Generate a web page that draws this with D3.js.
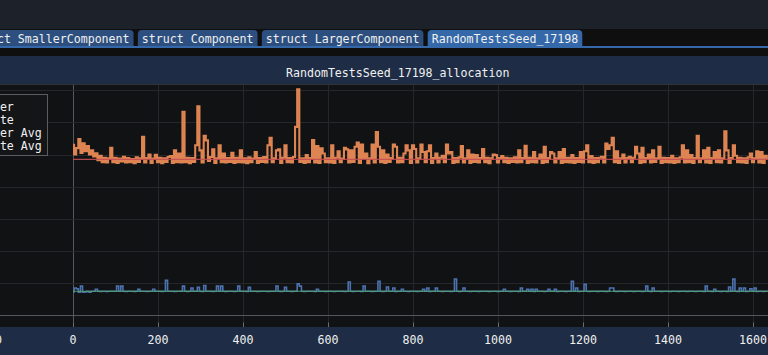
<!DOCTYPE html>
<html>
<head>
<meta charset="utf-8">
<script src="https://cdn.jsdelivr.net/npm/d3@7"></script>
<style>
  body { margin: 0; background: #0f0f10; overflow: hidden; }
  text { font-family: "DejaVu Sans Mono", monospace; font-size: 11.6px; fill: #f0f0f0; }
</style>
</head>
<body>
<svg id="chart" width="768" height="355"></svg>
<script>
// tabs of the window
var tabLabels = ["struct SmallerComponent", "struct Component", "struct LargerComponent", "RandomTestsSeed_17198"];
var activeTab = "RandomTestsSeed_17198";
var plotTitle = "RandomTestsSeed_17198_allocation";

// legend (series 1..4)
var seriesNames = ["Register", "Allocate", "Register Avg", "Allocate Avg"];
var seriesColors = ["#4c72b0", "#dd8452", "#55a868", "#c44e52"];

// one sample every 5 frames
var frameStep = 5;

// "Register" (blue)
var registerValues = [
  7.2, 8.4, 8.2, 7.1, 9.0, 7.1, 7.2, 7.4, 7.1, 7.4, 7.4, 8.0, 7.4, 7.3, 7.4, 7.4, 7.3, 7.4, 7.4, 7.4,
  7.4, 9.0, 7.4, 9.0, 7.4, 7.3, 7.4, 7.4, 7.4, 7.3, 7.4, 8.0, 7.4, 7.4, 7.4, 7.3, 7.4, 7.4, 8.0, 7.4,
  7.4, 7.4, 7.3, 7.4, 10.8, 7.4, 7.4, 7.4, 7.3, 7.4, 7.4, 7.4, 9.0, 7.4, 7.3, 7.4, 8.4, 7.4, 7.4, 8.6,
  7.4, 7.3, 9.2, 7.4, 7.4, 7.4, 7.3, 7.4, 9.0, 7.4, 9.0, 7.4, 7.3, 7.4, 7.4, 7.4, 7.3, 7.4, 9.0, 7.4,
  7.4, 7.4, 7.3, 8.6, 7.4, 7.4, 7.4, 7.3, 7.4, 7.4, 7.4, 7.4, 7.3, 7.4, 7.4, 7.4, 9.0, 7.4, 7.3, 7.4,
  8.6, 7.4, 7.4, 7.3, 7.4, 7.4, 9.7, 9.0, 7.4, 7.3, 7.4, 7.4, 7.4, 7.4, 7.3, 8.0, 7.4, 7.4, 7.4, 7.3,
  7.4, 7.4, 7.4, 7.3, 7.4, 7.4, 7.4, 7.4, 7.3, 7.4, 10.3, 7.4, 7.3, 7.4, 7.4, 7.4, 7.3, 9.0, 7.4, 7.4,
  7.4, 7.3, 7.4, 7.4, 10.5, 7.4, 7.3, 7.4, 8.7, 7.4, 7.4, 8.4, 7.3, 7.4, 7.4, 8.0, 7.4, 7.4, 7.3, 7.4,
  7.4, 7.4, 7.3, 7.4, 7.4, 8.0, 7.4, 8.4, 7.3, 7.4, 7.4, 8.4, 7.4, 7.4, 7.3, 7.4, 7.4, 7.4, 7.3, 7.4,
  11.2, 7.4, 7.3, 7.4, 8.4, 7.4, 7.4, 7.3, 7.4, 7.4, 7.4, 7.3, 7.4, 7.4, 7.4, 7.4, 7.3, 7.4, 7.4, 7.4,
  7.3, 7.4, 7.4, 8.0, 7.4, 7.4, 7.3, 7.4, 7.4, 7.4, 7.3, 8.4, 7.4, 7.4, 8.0, 7.4, 8.0, 7.3, 8.0, 7.4,
  7.4, 7.4, 7.3, 7.4, 8.0, 7.4, 7.4, 8.0, 7.3, 7.4, 7.4, 7.4, 7.3, 7.4, 7.4, 10.5, 7.4, 8.4, 7.3, 7.4,
  7.4, 9.6, 7.4, 7.3, 7.4, 7.4, 7.4, 7.3, 7.4, 7.4, 7.4, 7.3, 7.4, 8.4, 8.4, 7.4, 7.3, 7.4, 7.4, 7.4,
  7.3, 7.4, 7.4, 7.4, 7.3, 7.4, 7.4, 7.4, 7.3, 7.4, 9.0, 7.4, 7.3, 8.4, 7.4, 7.4, 7.4, 7.3, 7.4, 7.4,
  7.4, 7.3, 7.4, 7.4, 7.4, 7.3, 7.4, 7.4, 7.4, 7.3, 7.4, 7.4, 7.4, 7.3, 7.4, 7.4, 7.4, 7.3, 9.0, 7.4,
  7.4, 7.3, 8.0, 7.4, 7.4, 7.3, 7.4, 7.4, 7.3, 8.7, 7.4, 11.2, 7.4, 7.3, 8.4, 7.4, 8.4, 7.3, 7.4, 8.2,
  7.4, 8.4, 7.3, 7.4, 7.4, 7.3, 7.4, 7.4
];

// "Allocate" (orange)
var allocateValues = [
  53.0, 50.0, 52.0, 54.8, 50.5, 53.5, 51.0, 52.6, 50.0, 51.3, 49.4, 50.4, 48.2, 49.6, 47.6, 49.0, 47.5, 48.8, 52.1, 47.6,
  49.0, 47.4, 48.7, 47.8, 49.3, 47.5, 48.9, 47.6, 48.6, 47.3, 49.1, 47.7, 48.8, 55.5, 47.5, 48.9, 50.0, 47.4, 48.7, 49.9,
  47.6, 49.0, 47.3, 48.8, 47.7, 49.2, 49.5, 47.4, 51.3, 47.6, 50.3, 47.5, 63.3, 47.6, 49.0, 47.3, 48.9, 47.7, 52.9, 65.0,
  51.3, 47.5, 55.8, 54.4, 48.0, 49.2, 51.6, 47.4, 48.8, 52.9, 47.6, 50.3, 47.5, 48.9, 47.7, 50.5, 47.4, 49.0, 47.6, 51.3,
  47.5, 48.8, 47.3, 49.1, 47.6, 48.7, 50.8, 47.4, 48.9, 47.7, 49.2, 47.5, 52.9, 55.2, 47.6, 48.8, 51.3, 51.6, 47.4, 49.0,
  52.9, 47.6, 48.9, 47.5, 49.2, 58.6, 70.3, 47.7, 48.8, 47.4, 49.8, 47.6, 48.9, 54.5, 47.5, 52.6, 47.4, 51.9, 50.3, 47.6,
  48.8, 47.5, 52.9, 47.4, 49.0, 51.0, 47.6, 48.7, 52.1, 51.6, 47.5, 51.3, 47.7, 52.4, 53.7, 47.4, 53.1, 48.9, 50.3, 47.3,
  48.8, 53.1, 47.5, 57.0, 52.4, 47.6, 51.3, 47.4, 50.0, 47.7, 48.9, 53.1, 52.4, 47.5, 49.0, 47.6, 50.3, 52.9, 51.3, 47.4,
  52.9, 51.7, 47.5, 48.8, 53.1, 50.8, 47.6, 51.0, 52.9, 47.4, 48.9, 50.3, 47.5, 49.0, 49.6, 47.6, 53.1, 50.3, 50.8, 47.4,
  48.9, 47.6, 49.1, 52.6, 47.5, 48.8, 51.3, 47.4, 50.0, 47.7, 49.8, 47.5, 48.9, 51.7, 47.6, 49.0, 47.3, 48.8, 50.0, 49.8,
  47.5, 48.9, 49.5, 47.6, 49.0, 47.4, 48.8, 47.7, 49.1, 47.5, 51.3, 47.6, 48.9, 52.7, 47.4, 49.0, 47.6, 50.8, 47.5, 48.8,
  50.0, 47.4, 52.4, 47.6, 48.9, 50.8, 50.3, 47.5, 48.8, 50.8, 47.4, 51.7, 47.6, 49.0, 47.5, 49.8, 47.4, 48.9, 47.7, 50.8,
  47.5, 51.0, 52.9, 47.6, 49.5, 47.4, 48.9, 47.6, 49.0, 49.3, 47.5, 53.4, 51.7, 52.9, 55.2, 47.6, 51.0, 47.4, 48.8, 50.0,
  47.5, 48.9, 49.3, 47.6, 49.0, 52.4, 50.3, 47.4, 52.1, 47.6, 48.9, 50.0, 47.5, 51.3, 47.7, 48.8, 52.4, 47.4, 49.0, 47.6,
  48.9, 47.5, 49.6, 47.4, 48.8, 47.6, 49.1, 52.9, 47.5, 51.3, 47.6, 49.8, 47.4, 48.9, 55.8, 47.6, 48.8, 51.3, 47.5, 52.1,
  47.4, 48.9, 50.8, 47.6, 51.3, 47.5, 48.8, 57.2, 51.3, 47.4, 48.9, 52.9, 49.6, 47.6, 49.0, 47.5, 48.8, 47.4, 49.1, 50.3,
  47.6, 48.8, 51.0, 47.5, 50.8, 47.4, 49.6, 48.8
];

// running averages (flat over the run)
var registerAvg = [7.4];
var allocateAvg = [48.5];

var xTicks = [-200, 0, 200, 400, 600, 800, 1000, 1200, 1400, 1600];
var yTicks = [0, 10, 20, 30, 40, 50, 60, 70];

var svg = d3.select("#chart");
var W = +svg.attr("width"), H = +svg.attr("height");

// window chrome
svg.append("rect").attr("width", W).attr("height", H).attr("fill", "#0f0f10");
svg.append("rect").attr("width", W).attr("height", 29).attr("fill", "#1d212a");

// tabs
var tabG = svg.append("g");
var tx = -35;
tabLabels.forEach(function(label) {
    var t = tabG.append("text").attr("x", tx + 4).attr("y", 43).text(label);
    var w = t.node().getComputedTextLength() + 8;
    var r = 4, top = 30, bot = 47;
    tabG.insert("path", "text")
        .attr("d", "M" + tx + "," + bot + "V" + (top + r) + "Q" + tx + "," + top + " " + (tx + r) + "," + top +
                   "H" + (tx + w - r) + "Q" + (tx + w) + "," + top + " " + (tx + w) + "," + (top + r) + "V" + bot + "Z")
        .attr("fill", label == activeTab ? "#3468a8" : "#2c4f7f");
    tx += w + 4.3;
});
svg.append("rect").attr("x", 0).attr("y", 46).attr("width", W).attr("height", 2).attr("fill", "#3468a8");

// plot frame
var plotTop = 84, plotBottom = 327;
svg.append("rect").attr("x", 0).attr("y", 56).attr("width", W).attr("height", H - 56).attr("fill", "#1e2d45");
svg.append("text").attr("x", 286).attr("y", 77).text(plotTitle);
svg.append("rect").attr("x", 0).attr("y", plotTop).attr("width", W).attr("height", plotBottom - plotTop).attr("fill", "#111214");
svg.append("line").attr("x1", 0).attr("x2", W).attr("y1", plotTop + 0.5).attr("y2", plotTop + 0.5).attr("stroke", "#2f3238");

var x = d3.scaleLinear().domain([0, 1600]).range([73, 753]);
var y = d3.scaleLinear().domain([0, 70]).range([315, 90.3]);

svg.append("clipPath").attr("id", "plotclip")
    .append("rect").attr("x", 0).attr("y", plotTop + 1).attr("width", W).attr("height", plotBottom - plotTop - 1);

var plot = svg.append("g").attr("clip-path", "url(#plotclip)");

// grid
plot.selectAll(".vgrid").data(xTicks).enter().append("line")
    .attr("x1", function(d) { return Math.round(x(d)) + 0.5; })
    .attr("x2", function(d) { return Math.round(x(d)) + 0.5; })
    .attr("y1", plotTop).attr("y2", plotBottom)
    .attr("stroke", function(d) { return d == 0 ? "#55575c" : "#25272b"; });
plot.selectAll(".hgrid").data(yTicks).enter().append("line")
    .attr("x1", 0).attr("x2", W)
    .attr("y1", function(d) { return Math.round(y(d)) + 0.5; })
    .attr("y2", function(d) { return Math.round(y(d)) + 0.5; })
    .attr("stroke", function(d) { return d == 0 ? "#55575c" : "#25272b"; });

// series: dense frame data, drawn stepped so spikes stay narrow
var line = d3.line()
    .curve(d3.curveStep)
    .x(function(d, i) { return x(i * frameStep); })
    .y(function(d) { return y(d); });

var strokeW = [1.6, 2.1];
[registerValues, allocateValues].forEach(function(vals, k) {
    plot.append("path").datum(vals)
        .attr("d", line)
        .attr("fill", "none")
        .attr("stroke", seriesColors[k])
        .attr("stroke-width", strokeW[k])
        .attr("stroke-linejoin", "miter");
});

var lastFrame = (allocateValues.length - 1) * frameStep;
[registerAvg, allocateAvg].forEach(function(a, k) {
    plot.append("line")
        .attr("x1", x(0)).attr("x2", x(lastFrame))
        .attr("y1", y(a[0])).attr("y2", y(a[0]))
        .attr("stroke", seriesColors[k + 2])
        .attr("stroke-opacity", 0.9)
        .attr("stroke-width", 1.2);
});

// legend (mostly scrolled off to the left)
var lg = svg.append("g");
lg.append("rect").attr("x", -62.5).attr("y", 94.5).attr("width", 110).attr("height", 61)
    .attr("fill", "#141517").attr("stroke", "#5a5c60");
seriesNames.forEach(function(name, i) {
    lg.append("rect").attr("x", -56).attr("y", 102 + i * 12.9).attr("width", 9).attr("height", 9).attr("fill", seriesColors[i]);
    lg.append("text").attr("x", -42).attr("y", 110.8 + i * 12.9).text(name);
});

// x axis
svg.selectAll(".tick").data(xTicks).enter().append("line")
    .attr("x1", function(d) { return Math.round(x(d)) + 0.5; })
    .attr("x2", function(d) { return Math.round(x(d)) + 0.5; })
    .attr("y1", plotBottom - 4.5).attr("y2", plotBottom)
    .attr("stroke", "#6b6d72");
svg.selectAll(".tlabel").data(xTicks).enter().append("text")
    .attr("x", function(d) { return x(d); })
    .attr("y", 344)
    .attr("text-anchor", "middle")
    .text(function(d) { return d; });
</script>
</body>
</html>
